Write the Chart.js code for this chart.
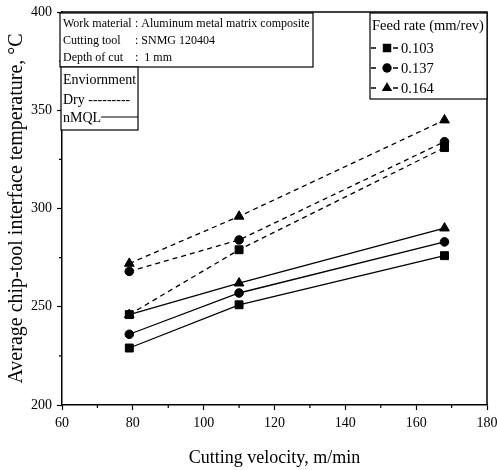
<!DOCTYPE html>
<html><head><meta charset="utf-8">
<script src="https://cdn.jsdelivr.net/npm/chart.js@4.4.0/dist/chart.umd.min.js"></script>
<style>html,body{margin:0;padding:0;background:#fff}#wrap{width:497px;height:470px}</style>
</head><body><div id="wrap"><canvas id="c" width="497" height="470"></canvas></div>
<script>
// ---- data ----
const velocity = [79, 110, 168];
const feedRates = ['0.103', '0.137', '0.164'];
const dry103 = [246, 279, 331];
const dry137 = [268, 284, 334];
const dry164 = [272, 296, 345];
const nmql103 = [229, 251, 276];
const nmql137 = [236, 257, 283];
const nmql164 = [246, 262, 290];
const xTitle = 'Cutting velocity, m/min';
const yTitle = 'Average chip-tool interface temperature, \u00B0C';
const infoLabels = ['Work material', 'Cutting tool', 'Depth of cut'];
const infoValues = [': Aluminum metal matrix composite', ': SNMG 120404', ':  1 mm'];
const envLines = ['Enviornment', 'Dry ---------', 'nMQL'];
const legendTitle = 'Feed rate (mm/rev)';

const SERIF = '"Liberation Serif", "Times New Roman", serif';
const styles = ['rect', 'circle', 'triangle'];
const radii = [5.6, 4.3, 5.6];

function pts(arr) { return arr.map((v, i) => ({x: velocity[i], y: v})); }
function ds(label, arr, k, dashed) {
  return {
    label, data: pts(arr), borderColor: '#000', backgroundColor: '#000',
    borderWidth: 1.3, borderDash: dashed ? [5, 4] : [],
    pointStyle: styles[k], pointRadius: radii[k], pointHoverRadius: radii[k],
    pointBackgroundColor: '#000', pointBorderColor: '#000', pointBorderWidth: 1,
    tension: 0, fill: false
  };
}
const datasets = [
  ds('Dry ' + feedRates[0], dry103, 0, true),
  ds('Dry ' + feedRates[1], dry137, 1, true),
  ds('Dry ' + feedRates[2], dry164, 2, true),
  ds('nMQL ' + feedRates[0], nmql103, 0, false),
  ds('nMQL ' + feedRates[1], nmql137, 1, false),
  ds('nMQL ' + feedRates[2], nmql164, 2, false)
];

function marker(ctx, style, x, y, r) {
  ctx.beginPath();
  if (style === 'rect') { const s = r * Math.SQRT1_2; ctx.rect(x - s, y - s, 2 * s, 2 * s); }
  else if (style === 'circle') { ctx.arc(x, y, r, 0, Math.PI * 2); }
  else { const w = r * Math.sqrt(3) / 2;
    ctx.moveTo(x, y - r); ctx.lineTo(x + w, y + r / 2); ctx.lineTo(x - w, y + r / 2); ctx.closePath(); }
  ctx.fill();
}

const decor = {
  id: 'decor',
  afterDraw(chart) {
    const ctx = chart.ctx, a = chart.chartArea;
    const xs = chart.scales.x, ys = chart.scales.y;
    ctx.save();
    ctx.strokeStyle = '#000'; ctx.fillStyle = '#000';
    // frame top/right
    ctx.lineWidth = 1.5;
    ctx.beginPath();
    ctx.moveTo(a.left, a.top); ctx.lineTo(a.right, a.top); ctx.lineTo(a.right, a.bottom);
    ctx.stroke();
    // minor ticks
    ctx.lineWidth = 1.2;
    ctx.beginPath();
    for (let v = 70; v < 180; v += 20) { const px = xs.getPixelForValue(v); ctx.moveTo(px, a.bottom); ctx.lineTo(px, a.bottom + 3); }
    for (let v = 225; v < 400; v += 50) { const py = ys.getPixelForValue(v); ctx.moveTo(a.left, py); ctx.lineTo(a.left - 3, py); }
    ctx.stroke();

    ctx.textBaseline = 'middle'; ctx.textAlign = 'left';
    // info box
    ctx.lineWidth = 1.2;
    ctx.fillStyle = '#fff'; ctx.fillRect(60, 13, 253, 54);
    ctx.strokeRect(60, 13, 253, 54);
    ctx.fillStyle = '#000';
    ctx.font = '12px ' + SERIF;
    const iy = [24, 41, 58];
    infoLabels.forEach((t, i) => { ctx.fillText(t, 63, iy[i]); ctx.fillText(infoValues[i], 135, iy[i]); });
    // environment box
    ctx.fillStyle = '#fff'; ctx.fillRect(61, 67, 77, 63);
    ctx.strokeRect(61, 67, 77, 63);
    ctx.fillStyle = '#000';
    ctx.font = '14px ' + SERIF;
    const ey = [80, 100, 118];
    envLines.forEach((t, i) => ctx.fillText(t, 63, ey[i]));
    const nw = ctx.measureText(envLines[2]).width;
    ctx.beginPath(); ctx.moveTo(63 + nw, 117); ctx.lineTo(138, 117); ctx.stroke();
    // legend box
    const lx = a.right - 117;
    ctx.fillStyle = '#fff'; ctx.fillRect(lx, 13, 117, 86);
    ctx.strokeRect(lx, 13, 117, 86);
    ctx.fillStyle = '#000';
    ctx.font = '14.5px ' + SERIF;
    ctx.fillText(legendTitle, lx + 2, 26);
    const ly = [48, 68, 88];
    feedRates.forEach((t, i) => {
      ctx.lineWidth = 1.3;
      ctx.beginPath(); ctx.moveTo(lx + 1, ly[i]); ctx.lineTo(lx + 6, ly[i]); ctx.moveTo(lx + 23, ly[i]); ctx.lineTo(lx + 28, ly[i]); ctx.stroke();
      marker(ctx, styles[i], lx + 17, ly[i], radii[i] + 0.4);
      ctx.fillText(t, lx + 31, ly[i] + 1);
    });
    ctx.restore();
  }
};

new Chart(document.getElementById('c'), {
  type: 'line',
  data: { datasets },
  options: {
    responsive: false, animation: false, devicePixelRatio: 1,
    layout: { padding: { top: 12, right: 10, left: 0, bottom: 0 } },
    plugins: { legend: { display: false }, tooltip: { enabled: false } },
    scales: {
      x: {
        type: 'linear', min: 60, max: 180,
        ticks: { stepSize: 20, color: '#000', font: { family: SERIF, size: 14 }, padding: 5, maxRotation: 0 },
        grid: { drawOnChartArea: false, color: '#000', tickLength: 5, tickWidth: 1.2 },
        border: { color: '#000', width: 1.5 },
        title: { display: true, text: xTitle, color: '#000', font: { family: SERIF, size: 18 }, padding: { top: 0, bottom: 1 } },
        afterFit(s) { s.height = 65; s.paddingLeft = 0; s.paddingRight = 0; }
      },
      y: {
        type: 'linear', min: 200, max: 400,
        ticks: { stepSize: 50, color: '#000', font: { family: SERIF, size: 14 }, padding: 5 },
        grid: { drawOnChartArea: false, color: '#000', tickLength: 5, tickWidth: 1.2 },
        border: { color: '#000', width: 1.5 },
        title: { display: true, text: yTitle, color: '#000', font: { family: SERIF, size: 20 }, padding: { top: 5, bottom: 0 } },
        afterFit(s) { s.width = 62; s.paddingTop = 0; s.paddingBottom = 0; }
      }
    }
  },
  plugins: [decor]
});
</script></body></html>
